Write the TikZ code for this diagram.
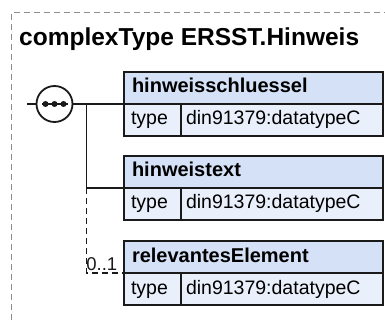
\documentclass[tikz,border=0pt]{standalone}
\usepackage{fontspec}
\setmainfont{Liberation Sans}
\usepackage{tikz}
\usetikzlibrary{positioning, calc}
\definecolor{hdrblue}{HTML}{D5E1F6}
\definecolor{rowblue}{HTML}{EAF0FB}
\definecolor{frameline}{HTML}{8E8E8E}
\definecolor{ink}{HTML}{1A1A1A}

\begin{document}
\begin{tikzpicture}[
    x=1pt, y=-1pt,
    elemhdr/.style={rectangle, draw=ink, line width=1.8pt, outer sep=0pt, fill=hdrblue, minimum width=259pt, minimum height=32pt, anchor=north west, align=left, text width=243pt, inner xsep=8pt, text height=14pt, text depth=4pt, font=\fontsize{20}{24}\selectfont\bfseries},
    typekey/.style={rectangle, draw=ink, line width=1.8pt, outer sep=0pt, fill=rowblue, minimum width=57pt, minimum height=32pt, align=left, text width=43pt, inner xsep=7pt, text height=14pt, text depth=4pt, font=\fontsize{19.5}{23}\selectfont},
    typeval/.style={rectangle, draw=ink, line width=1.8pt, outer sep=0pt, fill=rowblue, minimum width=202pt, minimum height=32pt, align=left, text width=192pt, inner xsep=5pt, text height=14pt, text depth=4pt, font=\fontsize{19.5}{23}\selectfont},
    seqnode/.style={circle, draw=ink, line width=1.8pt, outer sep=0pt, fill=white, minimum size=36pt, inner sep=0pt},
    wire/.style={draw=ink, line width=1.5pt},
  ]
  \useasboundingbox (0,0) rectangle (385,320);
  \draw[frameline, line width=1pt, dash pattern=on 6pt off 4pt] (11,320) |- (385,13);
  \node[anchor=base west, inner sep=0pt, font=\fontsize{24.5}{28}\selectfont\bfseries] (title) at (19,46) {complexType ERSST.Hinweis};

  % the three elements
  \node[elemhdr] (hdrSchluessel) at (124,72) {hinweisschluessel};
  \node[typekey, below=0pt of hdrSchluessel.south west, anchor=north west] (keySchluessel) {type};
  \node[typeval, right=0pt of keySchluessel] (valSchluessel) {din91379:datatypeC};

  \node[elemhdr] (hdrText) at (124,156) {hinweistext};
  \node[typekey, below=0pt of hdrText.south west, anchor=north west] (keyText) {type};
  \node[typeval, right=0pt of keyText] (valText) {din91379:datatypeC};

  \node[elemhdr] (hdrRelevant) at (124,241) {relevantesElement};
  \node[typekey, below=0pt of hdrRelevant.south west, anchor=north west] (keyRelevant) {type};
  \node[typeval, right=0pt of keyRelevant] (valRelevant) {din91379:datatypeC};

  % sequence compositor
  \node[seqnode] (seq) at (54.5,104) {};
  \draw[ink, line width=2pt] ([xshift=-13pt]seq.center) -- ([xshift=13pt]seq.center);
  \foreach \dx in {-9,0,9}
    \fill[ink] ([xshift=\dx pt]seq.center) circle (3);

  \coordinate (stub) at (27,104);
  \coordinate (branch) at (86.5,104);
  \draw[wire] (stub) -- (seq.west);
  \draw[wire] (seq.east) -- (hdrSchluessel.south west);
  \draw[wire] (branch) |- (hdrText.south west);
  \draw[wire, dash pattern=on 6pt off 4pt] (branch |- hdrText.south west) |- (hdrRelevant.south west)
    node[anchor=south east, inner xsep=6pt, inner ysep=1.5pt, text=ink, font=\fontsize{18.5}{21}\selectfont] (occurs) {0..1};
\end{tikzpicture}
\end{document}
